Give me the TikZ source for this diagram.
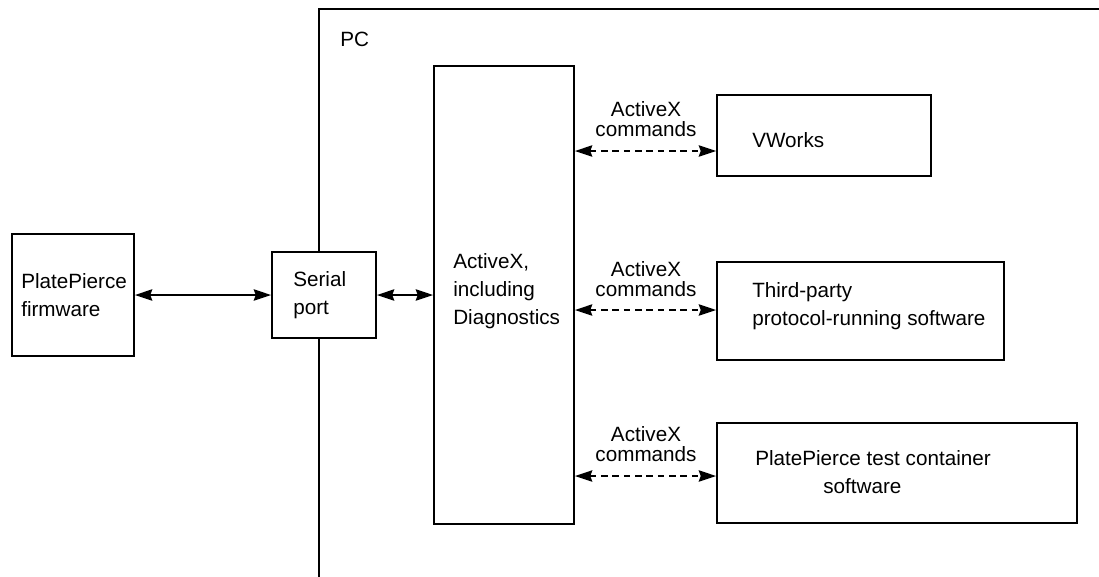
\documentclass[tikz,border=0pt]{standalone}
\usepackage{fontspec}
\setmainfont{Liberation Sans}
\usetikzlibrary{arrows.meta,fit}
\begin{document}
\begin{tikzpicture}[x=0.75pt,y=-0.75pt,
  box/.style={draw, line width=1.4pt, rectangle, inner sep=0pt, fill=white},
  txt/.style={font=\fontsize{15.5}{21}\selectfont, inner sep=0pt, align=left},
  lbl/.style={font=\fontsize{15.5}{15}\selectfont, inner sep=0pt, align=center},
  tip/.style={},
  solidarrow/.style={line width=1.3pt, {Stealth[length=13pt,width=8.5pt,inset=1.5pt]}-{Stealth[length=13pt,width=8.5pt,inset=1.5pt]}},
  dasharrow/.style={solidarrow, dash pattern=on 5pt off 3.5pt}]
\useasboundingbox (0,0) rectangle (1099,576);
% PC region
\coordinate (pcb) at (319,580);
\coordinate (pctl) at (319,9);
\coordinate (pctr) at (1103,9);
\draw[line width=1.2pt] (pcb) -- (pctl) -- (pctr);
\node[txt, anchor=west] (pc) at (340,39) {PC};
% boxes
\node[box, fit={(12,234) (134,356)}] (fw) {};
\node[box, fit={(272,252) (376,338)}] (sp) {};
\node[box, fit={(434,66) (574,524)}] (ax) {};
\node[box, fit={(717,95) (931,176)}] (vw) {};
\node[box, fit={(717,262) (1004,360)}] (tp) {};
\node[box, fit={(717,423) (1077,523)}] (tc) {};
% texts
\node[txt, anchor=west] (fwt) at (21,295) {PlatePierce\\firmware};
\node[txt, anchor=west] (spt) at (293,295) {Serial\\port};
\node[txt, anchor=west] (axt) at (453,291) {ActiveX,\\including\\Diagnostics};
\node[txt, anchor=west] (vwt) at (752,140) {VWorks};
\node[txt, anchor=west] (tpt) at (752,306) {Third-party\\protocol-running software};
\node[txt, align=center] (tct) at (873,472) {PlatePierce test container\\software\hspace*{16pt}};
% solid connectors
\draw[solidarrow] (fw) -- (sp);
\draw[solidarrow] (sp) -- (ax);
% dashed connectors
\coordinate (r1) at (0,151);
\coordinate (r2) at (0,310);
\coordinate (r3) at (0,476);
\draw[dasharrow] (ax.east |- r1) -- (vw.west |- r1);
\draw[dasharrow] (ax.east |- r2) -- (tp.west |- r2);
\draw[dasharrow] (ax.east |- r3) -- (tc.west |- r3);
\node[lbl] (l1) at (646,119) {ActiveX\\commands};
\node[lbl] (l2) at (646,279) {ActiveX\\commands};
\node[lbl] (l3) at (646,444) {ActiveX\\commands};
\end{tikzpicture}
\end{document}
